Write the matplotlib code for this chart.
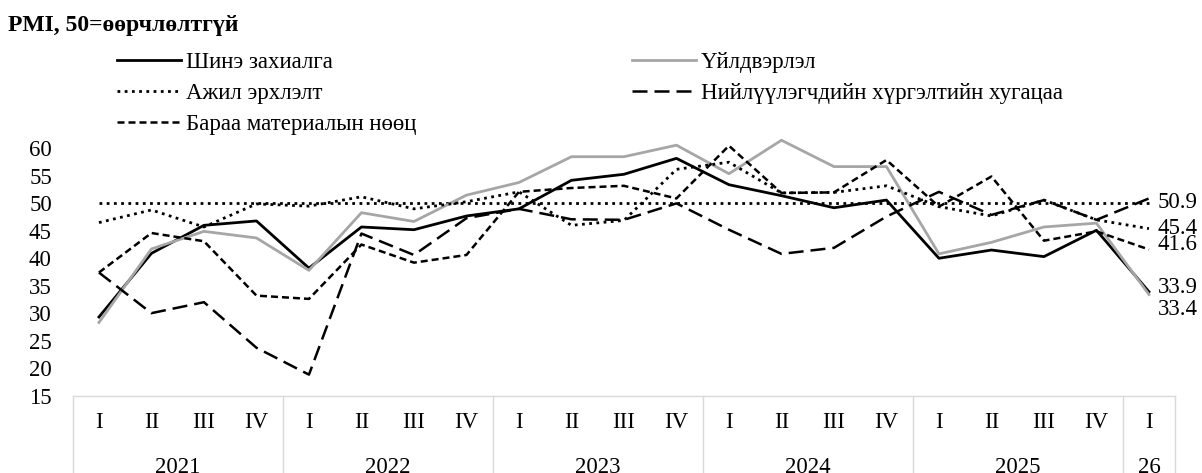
import matplotlib
matplotlib.use("Agg")
import matplotlib.pyplot as plt

plt.rcParams['font.family'] = ['Liberation Serif', 'DejaVu Serif']

# ── Data ──────────────────────────────────────────────────────────────────────
years    = ["2021", "2022", "2023", "2024", "2025", "26"]
quarters = ["I", "II", "III", "IV"] * 5 + ["I"]

new_orders = [29.3, 40.9, 46.0, 46.8, 38.2, 45.7, 45.2, 47.7, 49.0, 54.2, 55.3,
              58.2, 53.4, 51.4, 49.2, 50.6, 40.0, 41.5, 40.3, 45.1, 33.9]
output     = [28.3, 41.7, 44.9, 43.7, 37.8, 48.3, 46.7, 51.5, 53.8, 58.5, 58.5,
              60.6, 55.4, 61.5, 56.7, 56.7, 40.8, 42.9, 45.7, 46.4, 33.4]
employment = [46.5, 48.8, 45.7, 49.9, 49.5, 51.2, 49.0, 50.3, 52.1, 46.0, 46.9,
              56.2, 57.5, 51.9, 52.0, 53.2, 49.4, 47.7, 50.6, 47.0, 45.4]
delivery   = [37.4, 30.0, 32.0, 23.7, 18.8, 44.5, 40.6, 47.3, 49.0, 47.1, 47.0,
              50.0, 45.2, 40.8, 41.9, 47.6, 52.1, 47.9, 50.6, 47.0, 50.9]
inventory  = [37.4, 44.6, 43.1, 33.2, 32.6, 42.5, 39.2, 40.6, 52.1, 52.8, 53.2,
              50.9, 60.5, 51.9, 52.0, 57.9, 49.4, 54.9, 43.2, 44.9, 41.6]
neutral = 50

labels = ["Шинэ захиалга", "Үйлдвэрлэл", "Ажил эрхлэлт",
          "Нийлүүлэгчдийн хүргэлтийн хугацаа", "Бараа материалын нөөц"]

FS = 16.5

# ── Figure ────────────────────────────────────────────────────────────────────
W, H = 1202, 473
fig = plt.figure(figsize=(W / 100, H / 100), dpi=100)
x0, x1 = 72.7, 1175.2
ybot, ytop = 395.5, 137.5
ax = fig.add_axes([x0 / W, 1 - ybot / H, (x1 - x0) / W, (ybot - ytop) / H])

n = len(quarters)
x = list(range(n))

dot   = (0, (1, 1.6))
ldash = (0, (6, 2.8))
sdash = (0, (2.8, 1.6))

ax.plot(x, [neutral] * n, color="black", lw=2.0, ls=dot)
l1, = ax.plot(x, new_orders, color="black", lw=2.0)
l2, = ax.plot(x, output, color="#a6a6a6", lw=2.0)
l3, = ax.plot(x, employment, color="black", lw=2.0, ls=dot)
l4, = ax.plot(x, delivery, color="black", lw=1.8, ls=ldash)
l5, = ax.plot(x, inventory, color="black", lw=1.8, ls=sdash)

ax.set_xlim(-0.5, n - 0.5)
ax.set_ylim(15, 62)
ax.set_yticks(range(15, 61, 5))
ax.tick_params(axis="y", length=0, pad=15, labelsize=FS)
ax.set_xticks([])
for s in ["left", "right", "top"]:
    ax.spines[s].set_visible(False)
ax.spines["bottom"].set_color("#d9d9d9")
ax.spines["bottom"].set_linewidth(1)

# ── End labels ────────────────────────────────────────────────────────────────
end_offsets = [(new_orders, 3), (output, -11), (employment, 0.3),
               (delivery, -2.7), (inventory, 3.8)]
for vals, dy in end_offsets:
    ax.annotate(f"{vals[-1]:.1f}", (n - 1, vals[-1]), xytext=(6.5, dy),
                textcoords="offset points", ha="left", va="center",
                fontsize=FS, annotation_clip=False)

# ── Category table under the axis ─────────────────────────────────────────────
tr = ax.get_xaxis_transform()
for i, q in enumerate(quarters):
    ax.text(i, -0.105, q, transform=tr, ha="center", va="center", fontsize=FS)

starts = [0, 4, 8, 12, 16, 20]
sizes  = [4, 4, 4, 4, 4, 1]
for yr, st, sz in zip(years, starts, sizes):
    ax.text(st + (sz - 1) / 2, -0.28, yr, transform=tr, ha="center",
            va="center", fontsize=FS)
for b in starts + [n]:
    ax.plot([b - 0.5, b - 0.5], [0, -0.4], transform=tr, color="#d9d9d9",
            lw=1, clip_on=False)

# ── Title and legend ──────────────────────────────────────────────────────────
fig.text(8 / W, 1 - 25 / H, "PMI, 50=өөрчлөлтгүй", fontsize=17,
         fontweight="bold", ha="left", va="center")

common = dict(frameon=False, fontsize=FS, handlelength=2.8, handletextpad=0.2,
              borderpad=0, borderaxespad=0, labelspacing=0.43)
leg1 = fig.legend([l1, l3, l5], [labels[0], labels[2], labels[4]],
                  loc="upper left", bbox_to_anchor=(117 / W, 1 - 52 / H),
                  **common)
leg2 = fig.legend([l2, l4], [labels[1], labels[3]],
                  loc="upper left", bbox_to_anchor=(632 / W, 1 - 52 / H),
                  **common)

fig.savefig("out.png", dpi=100)
